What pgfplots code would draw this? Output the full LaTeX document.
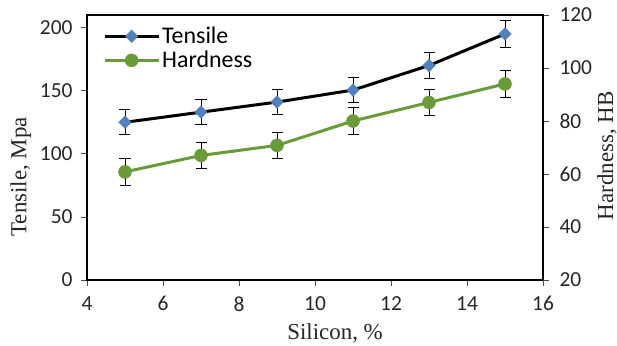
\documentclass[border=0pt]{standalone}
\usepackage{pgfplots}
\pgfplotsset{compat=1.18}
\usepackage{pgfplotstable}
\usepackage{fontspec}
\setmainfont{Carlito}
\newfontfamily\timesf{Liberation Serif}
\definecolor{tblue}{RGB}{79,129,189}
\definecolor{hgreen}{RGB}{105,155,55}

\pgfplotstableread{
x y e
5 125 10
7 133 10
9 141 10
11 150.5 10
13 170 10
15 195 10.5
}\tensile

\pgfplotstableread{
x y e
5 60.8 5
7 67 5
9 70.8 5
11 80 5
13 87 5
15 94 5
}\hardness

\pgfplotsset{
  common/.style={
    scale only axis, width=456bp, height=265bp,
    at={(0,0)}, anchor=south west,
    xmin=4, xmax=16,
    /pgf/number format/assume math mode=true,
    ticklabel style={font=\fontsize{21.5}{24}\selectfont, color=black!85},
    tick align=outside, major tick length=6bp,
    axis line style={line width=1.8bp},
    tick style={black!70, line width=0.8bp},
    label style={font=\timesf\fontsize{23}{26}\selectfont, color=black!85},
  },
  tstyle/.style={black, line width=3bp, mark=square*, mark size=4.4bp,
    mark options={fill=tblue, draw=tblue, line width=0.5bp, rotate=45}},
  hstyle/.style={hgreen, line width=3bp, mark=*, mark size=6.5bp,
    mark options={fill=hgreen, draw=hgreen, line width=0.5bp}},
  ebars/.style={error bars/.cd, y dir=both, y explicit,
    error bar style={black, line width=0.9bp},
    error mark options={black, line width=0.9bp, mark size=5.5bp, rotate=90}},
}

\begin{document}
\begin{tikzpicture}
\useasboundingbox (-87bp,-66bp) rectangle (530bp,280bp);
\begin{axis}[common,
  ymin=0, ymax=210, ytick={0,50,...,200},
  xtick={4,6,...,16},
  xtick pos=bottom, ytick pos=left,
  yticklabel style={xshift=-5bp},
  xticklabel style={yshift=-7bp},
  xlabel={Silicon, \%},
  ylabel={Tensile, Mpa},
  xlabel style={at={(axis description cs:0.544,-0.2)}, anchor=center},
  ylabel style={at={(axis description cs:-0.145,0.389)}, anchor=center},
]
\addplot[tstyle, ebars] table[x=x, y=y, y error=e] {\tensile};
\end{axis}
\begin{axis}[common,
  ymin=20, ymax=120, ytick={20,40,...,120},
  axis y line*=right, axis x line=none,
  yticklabel style={xshift=7bp},
  ylabel={Hardness, HB},
  ylabel style={at={(axis description cs:1.140,0.468)}, anchor=center},
  legend style={at={(axis description cs:0.035,0.962)}, anchor=north west,
    draw=none, fill=none, font=\fontsize{24}{26}\selectfont, row sep=2bp,
    inner sep=0pt},
  legend cell align=left,
  legend image code/.code={\draw[mark repeat=2,mark phase=2,#1] plot coordinates {(0bp,0bp) (27bp,0bp) (54bp,0bp)};},
]
\addlegendimage{tstyle}
\addlegendentry{Tensile}
\addplot[hstyle, ebars] table[x=x, y=y, y error=e] {\hardness};
\addlegendentry{Hardness}
\end{axis}
\end{tikzpicture}
\end{document}
